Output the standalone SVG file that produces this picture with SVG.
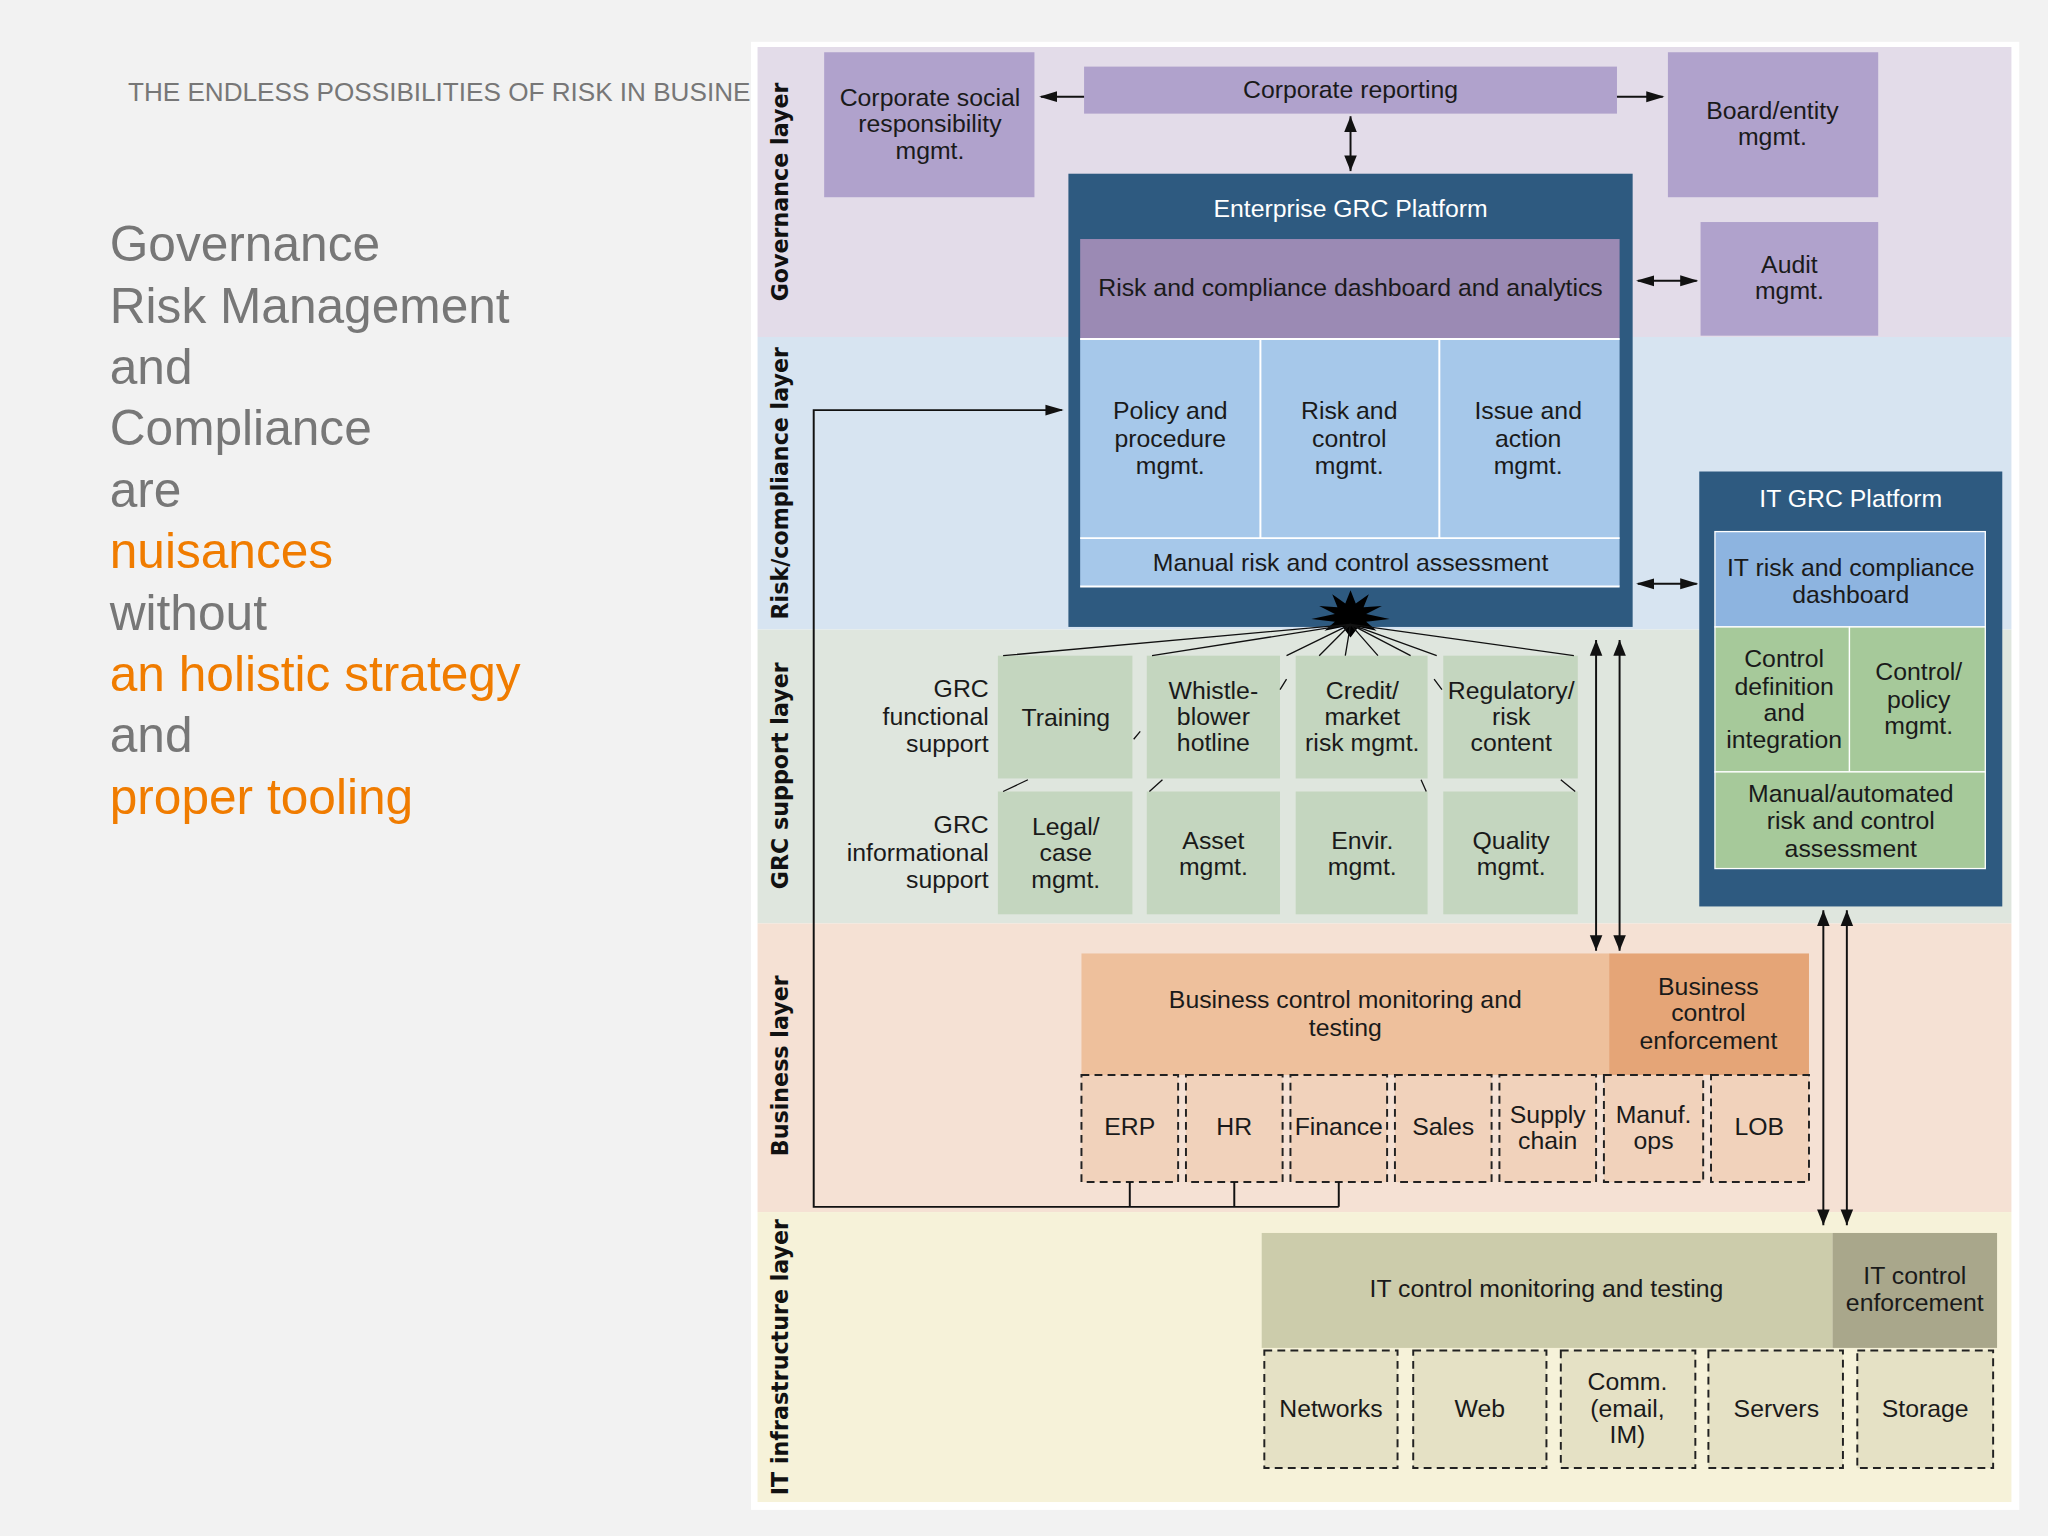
<svg xmlns="http://www.w3.org/2000/svg" width="2048" height="1536" viewBox="0 0 2048 1536">
<style>
.t{font-family:"Liberation Sans Narrow","Liberation Sans",Arial,sans-serif;font-size:19px;fill:#1a1a1a;text-anchor:middle}
.w{fill:#fff}
.lay{font-family:"DejaVu Sans",sans-serif;font-weight:bold;font-size:17px;fill:#111;text-anchor:middle}
.big{font-family:"Liberation Sans",Arial,sans-serif;font-size:38px;fill:#777}
.or{fill:#f07c00}
.ln{stroke:#111;stroke-width:1.5;fill:none}
.ds{stroke:#222;stroke-width:1.5;stroke-dasharray:6 4}
</style>
<defs>
<marker id="a" viewBox="0 0 10 10" refX="9" refY="5" markerWidth="8" markerHeight="8" orient="auto-start-reverse" markerUnits="userSpaceOnUse"><path d="M0,1 L10,5 L0,9 z" fill="#111"/></marker>
<marker id="b" viewBox="0 0 10 10" refX="9" refY="5" markerWidth="14" markerHeight="14" orient="auto-start-reverse" markerUnits="userSpaceOnUse"><path d="M0,2 L10,5 L0,8 z" fill="#111"/></marker>
<marker id="v" viewBox="0 0 10 20" refX="10" refY="10" markerWidth="12" markerHeight="24" orient="auto-start-reverse" markerUnits="userSpaceOnUse"><path d="M0,6 L10,10 L0,14 z" fill="#111"/></marker>
</defs>
<rect width="2048" height="1536" fill="#f2f2f2"/>
<g transform="scale(1.30612)">
<text x="98" y="77" font-family="Liberation Sans, Arial, sans-serif" font-size="20" fill="#777">THE ENDLESS POSSIBILITIES OF RISK IN BUSINESS</text>
<g class="big">
<text x="84" y="200">Governance</text>
<text x="84" y="247">Risk Management</text>
<text x="84" y="294">and</text>
<text x="84" y="341">Compliance</text>
<text x="84" y="388">are</text>
<text x="84" y="435" class="or">nuisances</text>
<text x="84" y="482">without</text>
<text x="84" y="529" class="or">an holistic strategy</text>
<text x="84" y="576">and</text>
<text x="84" y="623" class="or">proper tooling</text>
</g>
<rect x="575" y="32" width="971" height="1124" fill="#fff"/>
<g id="layers">
<rect x="580" y="36" width="960" height="222" fill="#e3dce9"/>
<rect x="580" y="258" width="960" height="224" fill="#d7e4f1"/>
<rect x="580" y="482" width="960" height="225" fill="#dfe6de"/>
<rect x="580" y="707" width="960" height="221" fill="#f5e1d4"/>
<rect x="580" y="928" width="960" height="222" fill="#f6f2d9"/>
<text class="lay" transform="translate(603,147) rotate(-90)">Governance layer</text>
<text class="lay" transform="translate(603,370) rotate(-90)">Risk/compliance layer</text>
<text class="lay" transform="translate(603,594) rotate(-90)">GRC support layer</text>
<text class="lay" transform="translate(603,816) rotate(-90)">Business layer</text>
<text class="lay" transform="translate(603,1039) rotate(-90)">IT infrastructure layer</text>
</g>
<g id="csr"><rect x="631" y="40" width="161" height="111" fill="#b0a2cc"/><text class="t" x="712" y="81">Corporate social</text><text class="t" x="712" y="101">responsibility</text><text class="t" x="712" y="122">mgmt.</text></g>
<g id="reporting"><rect x="830" y="51" width="408" height="36" fill="#b0a2cc"/><text class="t" x="1034" y="75">Corporate reporting</text></g>
<g id="board"><rect x="1277" y="40" width="161" height="111" fill="#b0a2cc"/><text class="t" x="1357" y="91">Board/entity</text><text class="t" x="1357" y="111">mgmt.</text></g>
<g id="audit"><rect x="1302" y="170" width="136" height="87" fill="#b0a2cc"/><text class="t" x="1370" y="209">Audit</text><text class="t" x="1370" y="229">mgmt.</text></g>
<g id="egrc">
<rect x="818" y="133" width="432" height="347" fill="#2e5a80"/>
<text class="t w" x="1034" y="166">Enterprise GRC Platform</text>
<rect x="827" y="183" width="413" height="76" fill="#9b8ab4"/>
<text class="t" x="1034" y="227">Risk and compliance dashboard and analytics</text>
<rect x="827" y="259" width="413" height="153" fill="#a6c8ea"/>
<rect x="827" y="412" width="413" height="37" fill="#a6c8ea"/>
<path d="M827,259.5H1240M965,259V412M1102,259V412M827,412H1240M827,449H1240" stroke="#fff" stroke-width="1.5"/>
<text class="t" x="896" y="321">Policy and</text><text class="t" x="896" y="342">procedure</text><text class="t" x="896" y="363">mgmt.</text>
<text class="t" x="1033" y="321">Risk and</text><text class="t" x="1033" y="342">control</text><text class="t" x="1033" y="363">mgmt.</text>
<text class="t" x="1170" y="321">Issue and</text><text class="t" x="1170" y="342">action</text><text class="t" x="1170" y="363">mgmt.</text>
<text class="t" x="1034" y="437">Manual risk and control assessment</text>
<path d="M1034,452 L1038,462 L1048,455 L1044,465 L1058,464 L1046,470 L1064,474 L1046,476 L1054,483 L1040,480 L1034,488 L1028,480 L1014,483 L1022,476 L1004,474 L1022,470 L1010,464 L1024,465 L1020,455 L1030,462 z" fill="#000"/>
</g>
<g id="itgrc">
<rect x="1301" y="361" width="232" height="333" fill="#2e5a80"/>
<text class="t w" x="1417" y="388">IT GRC Platform</text>
<rect x="1313" y="407" width="207" height="73" fill="#8db4e0" stroke="#fff"/>
<text class="t" x="1417" y="441">IT risk and compliance</text><text class="t" x="1417" y="462">dashboard</text>
<rect x="1313" y="480" width="103" height="111" fill="#a6c99a" stroke="#fff"/>
<rect x="1416" y="480" width="104" height="111" fill="#a6c99a" stroke="#fff"/>
<rect x="1313" y="591" width="207" height="74" fill="#a6c99a" stroke="#fff"/>
<text class="t" x="1366" y="511">Control</text><text class="t" x="1366" y="532">definition</text><text class="t" x="1366" y="552">and</text><text class="t" x="1366" y="573">integration</text>
<text class="t" x="1469" y="521">Control/</text><text class="t" x="1469" y="542">policy</text><text class="t" x="1469" y="562">mgmt.</text>
<text class="t" x="1417" y="614">Manual/automated</text><text class="t" x="1417" y="635">risk and control</text><text class="t" x="1417" y="656">assessment</text>
</g>
<g id="grcsupport">
<text class="t" x="757" y="534" text-anchor="end" style="text-anchor:end">GRC</text><text class="t" x="757" y="555" style="text-anchor:end">functional</text><text class="t" x="757" y="576" style="text-anchor:end">support</text>
<text class="t" x="757" y="638" style="text-anchor:end">GRC</text><text class="t" x="757" y="659" style="text-anchor:end">informational</text><text class="t" x="757" y="680" style="text-anchor:end">support</text>
<g fill="#c4d6bf">
<rect x="764" y="502" width="103" height="94"/><rect x="878" y="502" width="102" height="94"/><rect x="992" y="502" width="101" height="94"/><rect x="1105" y="502" width="103" height="94"/>
<rect x="764" y="606" width="103" height="94"/><rect x="878" y="606" width="102" height="94"/><rect x="992" y="606" width="101" height="94"/><rect x="1105" y="606" width="103" height="94"/>
</g>
<text class="t" x="816" y="556">Training</text>
<text class="t" x="929" y="535">Whistle-</text><text class="t" x="929" y="555">blower</text><text class="t" x="929" y="575">hotline</text>
<text class="t" x="1043" y="535">Credit/</text><text class="t" x="1043" y="555">market</text><text class="t" x="1043" y="575">risk mgmt.</text>
<text class="t" x="1157" y="535">Regulatory/</text><text class="t" x="1157" y="555">risk</text><text class="t" x="1157" y="575">content</text>
<text class="t" x="816" y="639">Legal/</text><text class="t" x="816" y="659">case</text><text class="t" x="816" y="680">mgmt.</text>
<text class="t" x="929" y="650">Asset</text><text class="t" x="929" y="670">mgmt.</text>
<text class="t" x="1043" y="650">Envir.</text><text class="t" x="1043" y="670">mgmt.</text>
<text class="t" x="1157" y="650">Quality</text><text class="t" x="1157" y="670">mgmt.</text>
</g>
<g id="business">
<rect x="828" y="730" width="404" height="93" fill="#eec09c"/>
<rect x="1232" y="730" width="153" height="93" fill="#e5a577"/>
<text class="t" x="1030" y="772">Business control monitoring and</text><text class="t" x="1030" y="793">testing</text>
<text class="t" x="1308" y="762">Business</text><text class="t" x="1308" y="782">control</text><text class="t" x="1308" y="803">enforcement</text>
<g fill="#f1d2bb" class="ds">
<rect x="828" y="823" width="74" height="82"/><rect x="908" y="823" width="74" height="82"/><rect x="988" y="823" width="74" height="82"/><rect x="1068" y="823" width="74" height="82"/><rect x="1148" y="823" width="74" height="82"/><rect x="1228" y="823" width="76" height="82"/><rect x="1310" y="823" width="75" height="82"/>
</g>
<text class="t" x="865" y="869">ERP</text><text class="t" x="945" y="869">HR</text><text class="t" x="1025" y="869">Finance</text><text class="t" x="1105" y="869">Sales</text>
<text class="t" x="1185" y="860">Supply</text><text class="t" x="1185" y="880">chain</text>
<text class="t" x="1266" y="860">Manuf.</text><text class="t" x="1266" y="880">ops</text>
<text class="t" x="1347" y="869">LOB</text>
</g>
<g id="it">
<rect x="966" y="944" width="437" height="88" fill="#ccccab"/>
<rect x="1403" y="944" width="126" height="88" fill="#a9a78b"/>
<text class="t" x="1184" y="993">IT control monitoring and testing</text>
<text class="t" x="1466" y="983">IT control</text><text class="t" x="1466" y="1004">enforcement</text>
<g fill="#e5e1c5" class="ds">
<rect x="968" y="1034" width="102" height="90"/><rect x="1082" y="1034" width="102" height="90"/><rect x="1195" y="1034" width="103" height="90"/><rect x="1308" y="1034" width="103" height="90"/><rect x="1422" y="1034" width="104" height="90"/>
</g>
<text class="t" x="1019" y="1085">Networks</text><text class="t" x="1133" y="1085">Web</text>
<text class="t" x="1246" y="1064">Comm.</text><text class="t" x="1246" y="1085">(email,</text><text class="t" x="1246" y="1105">IM)</text>
<text class="t" x="1360" y="1085">Servers</text><text class="t" x="1474" y="1085">Storage</text>
</g>
<g id="connectors" class="ln">
<path d="M830,74H797" marker-end="url(#b)"/>
<path d="M1238,74H1273" marker-end="url(#b)"/>
<path d="M1034,89V131" marker-start="url(#v)" marker-end="url(#v)"/>
<path d="M1254,215H1299" marker-start="url(#b)" marker-end="url(#b)"/>
<path d="M1254,447H1299" marker-start="url(#b)" marker-end="url(#b)"/>
<path d="M865,905V924M945,905V924M1025,905V924M1025,924H623V314H813" marker-end="url(#b)"/>
<path d="M1222,490V728" marker-start="url(#v)" marker-end="url(#v)"/>
<path d="M1240,490V728" marker-start="url(#v)" marker-end="url(#v)"/>
<path d="M1396,697V938" marker-start="url(#v)" marker-end="url(#v)"/>
<path d="M1414,697V938" marker-start="url(#v)" marker-end="url(#v)"/>
<path d="M1034,478L768,502M1034,478L882,502M1034,478L985,502M1034,478L1010,502M1034,478L1030,502M1034,478L1055,502M1034,478L1080,502M1034,478L1100,502M1034,478L1205,502" stroke-width="1"/>
<path d="M873,560L868,566M985,520L980,528M1098,520L1104,528M787,597L768,606M890,597L880,606M1088,597L1092,606M1195,597L1206,606" stroke-width="1"/>
</g>
</g>
</svg>
